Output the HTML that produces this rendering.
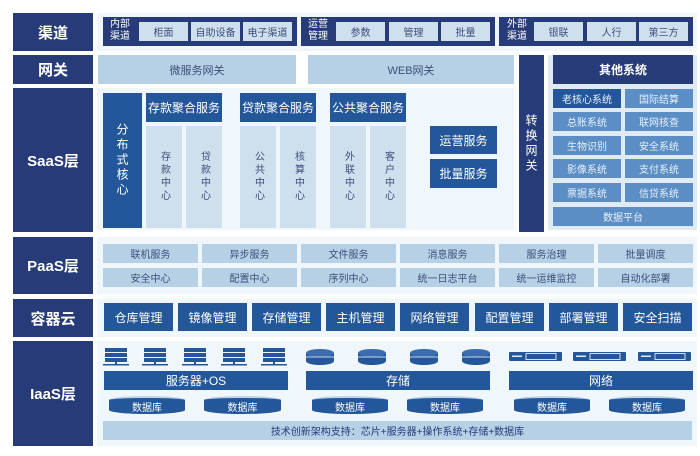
<!DOCTYPE html><html><head><meta charset="utf-8"><style>
*{margin:0;padding:0;box-sizing:border-box}
body{width:700px;height:456px;background:#fff;position:relative;overflow:hidden;font-family:"Liberation Sans","Noto Sans CJK SC",sans-serif}
div{position:absolute}
.c{display:flex;align-items:center;justify-content:center;text-align:center}
.L{background:#263b78;color:#fff;font-size:15px;font-weight:bold;left:13px;width:80px}
.P{background:#f0f7fc}
.dk{background:#263b78;color:#fff}
.md{background:#23579a;color:#fff}
.lt{background:#cfdfee;color:#3d4f7a}
.lb{background:#b6d0e6;color:#3d4f7a}
.sb{background:#5b8ec5;color:#e8f0fa;font-size:10px}
.v{writing-mode:vertical-rl;letter-spacing:3px}
.db{background:#23579a;color:#fff;font-size:10px;border-radius:50%/22%;border-top:2px solid #bcd3ea}
</style></head><body>
<div class="L c" style="top:13px;height:38px">渠道</div>
<div class="L c" style="top:55px;height:29px">网关</div>
<div class="L c" style="top:88px;height:144px">SaaS层</div>
<div class="L c" style="top:237px;height:57px">PaaS层</div>
<div class="L c" style="top:299px;height:38px">容器云</div>
<div class="L c" style="top:341px;height:105px">IaaS层</div>

<div class="P" style="left:97px;top:13px;width:600px;height:38px"></div>
<div class="dk" style="left:103px;top:17px;width:194px;height:29px"></div>
<div class="dk" style="left:301px;top:17px;width:194px;height:29px"></div>
<div class="dk" style="left:499px;top:17px;width:194px;height:29px"></div>
<div style="left:110px;top:19px;color:#fff;font-size:10px;line-height:12px">内部<br>渠道</div>
<div style="left:308px;top:19px;color:#fff;font-size:10px;line-height:12px">运营<br>管理</div>
<div style="left:507px;top:19px;color:#fff;font-size:10px;line-height:12px">外部<br>渠道</div>
<div class="lt c" style="left:139px;top:22px;width:49px;height:19px;font-size:10px">柜面</div>
<div class="lt c" style="left:191px;top:22px;width:49px;height:19px;font-size:10px">自助设备</div>
<div class="lt c" style="left:243px;top:22px;width:49px;height:19px;font-size:10px">电子渠道</div>
<div class="lt c" style="left:336px;top:22px;width:49px;height:19px;font-size:10px">参数</div>
<div class="lt c" style="left:389px;top:22px;width:49px;height:19px;font-size:10px">管理</div>
<div class="lt c" style="left:441px;top:22px;width:49px;height:19px;font-size:10px">批量</div>
<div class="lt c" style="left:534px;top:22px;width:49px;height:19px;font-size:10px">银联</div>
<div class="lt c" style="left:587px;top:22px;width:49px;height:19px;font-size:10px">人行</div>
<div class="lt c" style="left:639px;top:22px;width:49px;height:19px;font-size:10px">第三方</div>

<div class="lb c" style="left:98px;top:55px;width:198px;height:29px;font-size:11px">微服务网关</div>
<div class="lb c" style="left:308px;top:55px;width:206px;height:29px;font-size:11px">WEB网关</div>
<div class="dk c v" style="left:519px;top:55px;width:25px;height:177px;font-size:12px">转换网关</div>

<div style="left:548px;top:55px;width:149px;height:175px;background:#dfeaf5"></div>
<div class="dk c" style="left:553px;top:55px;width:140px;height:29px;font-size:12px;font-weight:bold">其他系统</div>
<div class="c" style="left:553px;top:89px;width:68px;height:19px;font-size:10px;background:#23579a;color:#e8f0fa">老核心系统</div>
<div class="sb c" style="left:625px;top:89px;width:68px;height:19px">国际结算</div>
<div class="sb c" style="left:553px;top:112px;width:68px;height:19px">总账系统</div>
<div class="sb c" style="left:625px;top:112px;width:68px;height:19px">联网核查</div>
<div class="sb c" style="left:553px;top:136px;width:68px;height:19px">生物识别</div>
<div class="sb c" style="left:625px;top:136px;width:68px;height:19px">安全系统</div>
<div class="sb c" style="left:553px;top:159px;width:68px;height:19px">影像系统</div>
<div class="sb c" style="left:625px;top:159px;width:68px;height:19px">支付系统</div>
<div class="sb c" style="left:553px;top:183px;width:68px;height:19px">票据系统</div>
<div class="sb c" style="left:625px;top:183px;width:68px;height:19px">信贷系统</div>
<div class="sb c" style="left:553px;top:207px;width:140px;height:19px">数据平台</div>

<div class="P" style="left:97px;top:88px;width:417px;height:142px"></div>
<div class="md c v" style="left:103px;top:93px;width:39px;height:135px;font-size:12px">分布式核心</div>
<div class="md c" style="left:146px;top:93px;width:76px;height:29px;font-size:12px">存款聚合服务</div>
<div class="md c" style="left:240px;top:93px;width:76px;height:29px;font-size:12px">贷款聚合服务</div>
<div class="md c" style="left:330px;top:93px;width:76px;height:29px;font-size:12px">公共聚合服务</div>
<div class="lt c v" style="left:146px;top:126px;width:36px;height:102px;font-size:10px">存款中心</div>
<div class="lt c v" style="left:186px;top:126px;width:36px;height:102px;font-size:10px">贷款中心</div>
<div class="lt c v" style="left:240px;top:126px;width:36px;height:102px;font-size:10px">公共中心</div>
<div class="lt c v" style="left:280px;top:126px;width:36px;height:102px;font-size:10px">核算中心</div>
<div class="lt c v" style="left:330px;top:126px;width:36px;height:102px;font-size:10px">外联中心</div>
<div class="lt c v" style="left:370px;top:126px;width:36px;height:102px;font-size:10px">客户中心</div>
<div class="md c" style="left:430px;top:126px;width:67px;height:28px;font-size:12px">运营服务</div>
<div class="md c" style="left:430px;top:159px;width:67px;height:29px;font-size:12px">批量服务</div>

<div class="P" style="left:97px;top:237px;width:600px;height:57px"></div>
<div class="lb c" style="left:103px;top:244px;width:95px;height:19px;font-size:10px">联机服务</div>
<div class="lb c" style="left:202px;top:244px;width:95px;height:19px;font-size:10px">异步服务</div>
<div class="lb c" style="left:301px;top:244px;width:95px;height:19px;font-size:10px">文件服务</div>
<div class="lb c" style="left:400px;top:244px;width:95px;height:19px;font-size:10px">消息服务</div>
<div class="lb c" style="left:499px;top:244px;width:95px;height:19px;font-size:10px">服务治理</div>
<div class="lb c" style="left:598px;top:244px;width:95px;height:19px;font-size:10px">批量调度</div>
<div class="lb c" style="left:103px;top:268px;width:95px;height:19px;font-size:10px">安全中心</div>
<div class="lb c" style="left:202px;top:268px;width:95px;height:19px;font-size:10px">配置中心</div>
<div class="lb c" style="left:301px;top:268px;width:95px;height:19px;font-size:10px">序列中心</div>
<div class="lb c" style="left:400px;top:268px;width:95px;height:19px;font-size:10px">统一日志平台</div>
<div class="lb c" style="left:499px;top:268px;width:95px;height:19px;font-size:10px">统一运维监控</div>
<div class="lb c" style="left:598px;top:268px;width:95px;height:19px;font-size:10px">自动化部署</div>

<div class="P" style="left:97px;top:299px;width:600px;height:38px"></div>
<div class="md c" style="left:104px;top:303px;width:69px;height:28px;font-size:12px">仓库管理</div>
<div class="md c" style="left:178px;top:303px;width:69px;height:28px;font-size:12px">镜像管理</div>
<div class="md c" style="left:252px;top:303px;width:69px;height:28px;font-size:12px">存储管理</div>
<div class="md c" style="left:326px;top:303px;width:69px;height:28px;font-size:12px">主机管理</div>
<div class="md c" style="left:400px;top:303px;width:69px;height:28px;font-size:12px">网络管理</div>
<div class="md c" style="left:475px;top:303px;width:69px;height:28px;font-size:12px">配置管理</div>
<div class="md c" style="left:549px;top:303px;width:69px;height:28px;font-size:12px">部署管理</div>
<div class="md c" style="left:623px;top:303px;width:69px;height:28px;font-size:12px">安全扫描</div>

<div class="P" style="left:97px;top:341px;width:600px;height:105px"></div>
<svg style="position:absolute;left:0;top:0" width="700" height="456">
<g fill="#23579a">
<g id="s"><rect x="105" y="348" width="22" height="4"/><rect x="105" y="353" width="22" height="4"/><rect x="105" y="358" width="22" height="4"/><rect x="103" y="364" width="26" height="1.5"/><rect x="115" y="361" width="2" height="4"/></g>
<use href="#s" x="39"/><use href="#s" x="79"/><use href="#s" x="118"/><use href="#s" x="158"/>
<g id="d"><ellipse cx="320" cy="361" rx="14" ry="4"/><rect x="306" y="353" width="28" height="8"/><ellipse cx="320" cy="353" rx="14" ry="4" fill="#3a6db0"/><line x1="306" y1="357" x2="334" y2="357" stroke="#fff" stroke-width="0.8"/></g>
<use href="#d" x="52"/><use href="#d" x="104"/><use href="#d" x="156"/>
<g id="w"><rect x="509" y="352" width="53" height="9" rx="1"/><rect x="526" y="353.5" width="30" height="6" fill="none" stroke="#fff" stroke-width="0.8"/><rect x="512" y="355.5" width="10" height="1.5" fill="#dfe8f5"/></g>
<use href="#w" x="64"/><use href="#w" x="129"/>
</g></svg>
<div class="md c" style="left:104px;top:371px;width:184px;height:19px;font-size:12px">服务器+OS</div>
<div class="md c" style="left:306px;top:371px;width:184px;height:19px;font-size:12px">存储</div>
<div class="md c" style="left:509px;top:371px;width:184px;height:19px;font-size:12px">网络</div>
<div class="db c" style="left:109px;top:396px;width:76px;height:18px">数据库</div>
<div class="db c" style="left:204px;top:396px;width:77px;height:18px">数据库</div>
<div class="db c" style="left:312px;top:396px;width:76px;height:18px">数据库</div>
<div class="db c" style="left:407px;top:396px;width:76px;height:18px">数据库</div>
<div class="db c" style="left:514px;top:396px;width:76px;height:18px">数据库</div>
<div class="db c" style="left:609px;top:396px;width:76px;height:18px">数据库</div>
<div class="lb c" style="left:103px;top:421px;width:589px;height:19px;font-size:10px;color:#263b78">技术创新架构支持：芯片+服务器+操作系统+存储+数据库</div>
</body></html>
